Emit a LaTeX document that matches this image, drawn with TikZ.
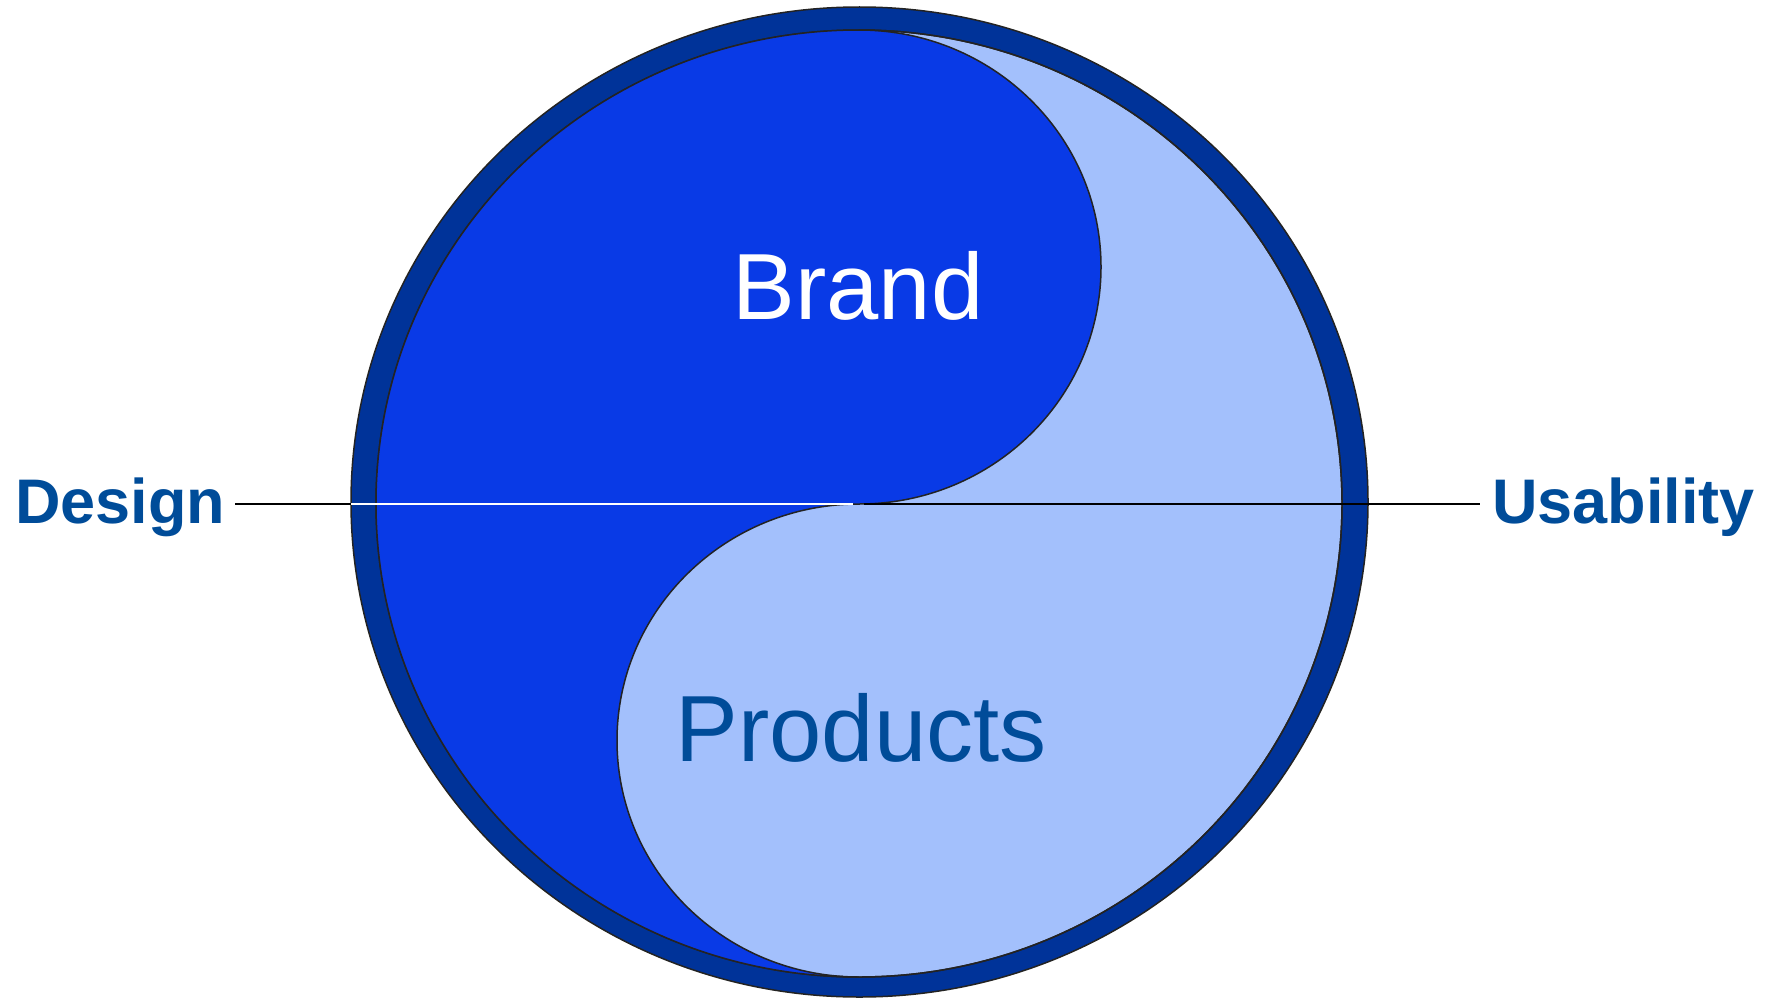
\documentclass[tikz,border=0pt]{standalone}
\usepackage{fontspec}
\setmainfont{Liberation Sans}
\definecolor{ringblue}{RGB}{0,51,153}
\definecolor{brandblue}{RGB}{9,58,230}
\definecolor{lightblue}{RGB}{163,192,252}
\definecolor{labelblue}{RGB}{0,76,153}
\definecolor{edgegray}{RGB}{35,35,35}
\tikzset{
  sidelabel/.style={font=\fontsize{63}{70}\selectfont\bfseries, text=labelblue, inner sep=0pt},
  biglabel/.style={font=\fontsize{94}{100}\selectfont, inner sep=0pt},
  axis/.style={line width=2pt}
}
\begin{document}
\begin{tikzpicture}[x=1pt,y=-1pt]
\useasboundingbox (0,0) rectangle (1772,998);
% outer ring
\filldraw[fill=ringblue, draw=edgegray, line width=1.5pt] (859.5,502) ellipse [x radius=508.5, y radius=495];
% inner ellipse (light)
\filldraw[fill=lightblue, draw=edgegray, line width=1.5pt] (859,503.5) ellipse [x radius=483, y radius=473.5];
% bright blue S region
\fill[brandblue] (859,30)
  arc[start angle=270, end angle=90, x radius=483, y radius=473.5]
  arc[start angle=90, end angle=270, x radius=242, y radius=236.5]
  arc[start angle=90, end angle=-90, x radius=242, y radius=237] -- cycle;
\draw[edgegray, line width=1.5pt] (859,977)
  arc[start angle=90, end angle=270, x radius=242, y radius=236.5]
  arc[start angle=90, end angle=-90, x radius=242, y radius=237];
\draw[edgegray, line width=1.5pt] (859,503.5) ellipse [x radius=483, y radius=473.5];
% labels
\node[biglabel, text=white, anchor=base] (brand) at (858,319) {Brand};
\node[biglabel, text=labelblue, anchor=base] (products) at (861,761) {Products};
\node[sidelabel, anchor=base west] (design) at (15,523) {Design};
\node[sidelabel, anchor=base west] (usability) at (1492,523) {Usability};
% axis lines
\coordinate (ringL) at (351,504);
\coordinate (midL) at (853,504);
\coordinate (midR) at (864,504);
\draw[axis, black] (design.east |- ringL) ++(10,0) -- (ringL);
\draw[axis, white] (ringL) -- (midL);
\draw[axis, black] (midR) -- ([xshift=-12pt]usability.west |- midR);
\end{tikzpicture}
\end{document}
